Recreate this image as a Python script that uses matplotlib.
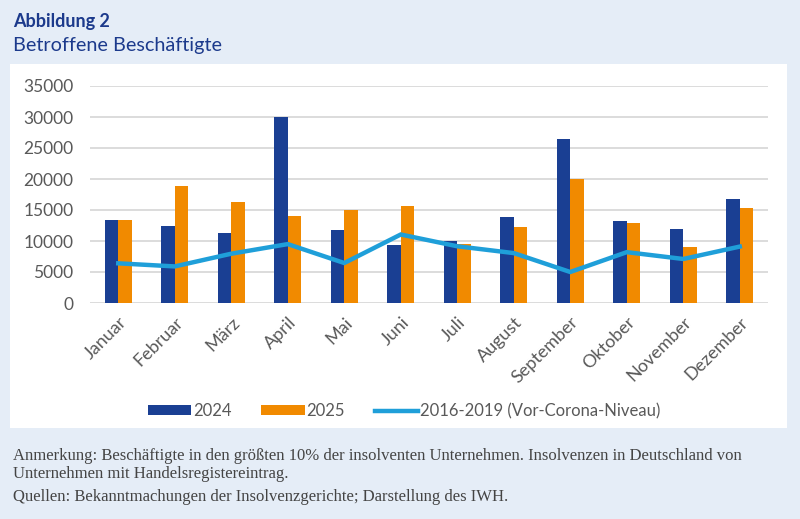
import numpy as np
import matplotlib.pyplot as plt
from matplotlib.patches import Rectangle

months = ["Januar", "Februar", "März", "April", "Mai", "Juni", "Juli",
          "August", "September", "Oktober", "November", "Dezember"]
y2024 = [13400, 12400, 11300, 30000, 11700, 9350, 9950,
         13850, 26500, 13300, 11950, 16700]
y2025 = [13400, 18800, 16300, 14100, 15000, 15700, 9500,
         12300, 20000, 12850, 9000, 15300]
pre_corona = [6400, 5900, 7950, 9500, 6450, 11050, 9150,
              8050, 5000, 8200, 7100, 9100]
yticks = [0, 5000, 10000, 15000, 20000, 25000, 30000, 35000]

bg = "#e5edf7"
dark_blue = "#1a3f93"
orange = "#f18a00"
line_blue = "#1f9fd9"
grey = "#595959"

fig = plt.figure(figsize=(8, 5.19), dpi=100)
fig.patch.set_facecolor(bg)

# white panel behind the chart
fig.patches.append(Rectangle((10 / 800, 1 - 428 / 519), 777 / 800, 364 / 519,
                             transform=fig.transFigure, facecolor="white",
                             edgecolor="none", zorder=-5))

fig.text(13 / 800, 1 - 21 / 519, "Abbildung 2", fontsize=13, fontweight="bold",
         color="#1c3a8c", va="center", family="Lato")
fig.text(13 / 800, 1 - 45 / 519, "Betroffene Beschäftigte", fontsize=14.3,
         color="#1c3a8c", va="center", family="Lato")

ax = fig.add_axes([90 / 800, 1 - 303 / 519, 678 / 800, 217 / 519])
ax.set_facecolor("none")

x = np.arange(len(months))
w = 0.24
b1 = ax.bar(x - w / 2, y2024, w, color=dark_blue, label="2024", zorder=2)
b2 = ax.bar(x + w / 2, y2025, w, color=orange, label="2025", zorder=2)
ln, = ax.plot(x, pre_corona, color=line_blue, lw=3.2, label="2016-2019 (Vor-Corona-Niveau)",
              zorder=3, solid_joinstyle="miter")

ax.set_xlim(-0.5, len(months) - 0.5)
ax.set_ylim(0, 35000)
ax.set_yticks(yticks)
ax.set_yticklabels([str(v) for v in yticks], fontsize=12.5, color=grey, family="Lato")
ax.yaxis.grid(True, color="#d9d9d9", lw=1.3, zorder=0)
ax.set_axisbelow(True)
ax.set_xticks(x)
ax.set_xticklabels(months, rotation=45, ha="right", rotation_mode="anchor",
                   fontsize=13, color=grey, family="Lato")
ax.tick_params(axis="both", length=0)
ax.tick_params(axis="y", pad=12)
ax.tick_params(axis="x", pad=8)
for s in ax.spines.values():
    s.set_visible(False)

leg = fig.legend([b1, b2, ln], ["2024", "2025", "2016-2019 (Vor-Corona-Niveau)"],
                 loc="center", bbox_to_anchor=(404 / 800, 1 - 411 / 519), ncol=3,
                 frameon=False, handlelength=2.6, handleheight=0.55,
                 columnspacing=1.8, handletextpad=0.1,
                 prop={"family": "Lato", "size": 12})
for t in leg.get_texts():
    t.set_color(grey)

note = ("Anmerkung: Beschäftigte in den größten 10% der insolventen Unternehmen. "
        "Insolvenzen in Deutschland von\nUnternehmen mit Handelsregistereintrag.")
fig.text(13 / 800, 1 - 448 / 519, note, fontsize=12, color="#444444",
         va="top", family="Liberation Serif", linespacing=1.2)
fig.text(13 / 800, 1 - 489 / 519, "Quellen: Bekanntmachungen der Insolvenzgerichte; Darstellung des IWH.",
         fontsize=12, color="#444444", va="top", family="Liberation Serif")

fig.savefig("out.png", dpi=100, facecolor=bg)
